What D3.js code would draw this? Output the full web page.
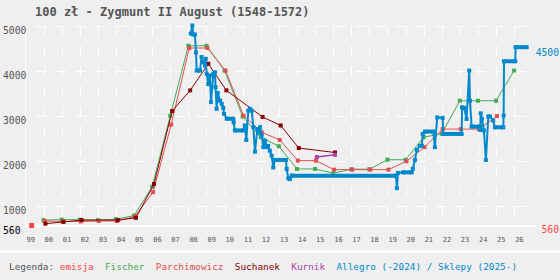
<!DOCTYPE html>
<html>
<head>
<meta charset="utf-8">
<script src="https://d3js.org/d3.v7.min.js"></script>
<style>
    body { margin: 0; background: #efefef; }
    #chart-area { width: 560px; height: 280px; }
    text { font-family: "DejaVu Sans Mono", monospace; }
</style>
</head>
<body>
<div id="chart-area"></div>
<script>

// chart texts
const title = "100 zł - Zygmunt II August (1548-1572)";
const yearTicks = d3.range(1999, 2027);
const gridYears = d3.range(2000, 2027);
const priceTicks = [1000, 2000, 3000, 4000, 5000];
const emissionPrice = 560;
const lastPrice = 4500;

// emission date and price
const emisja = [[1999.34, 560]];

// catalogue prices [year, zl]
const fischer = [
    [2000, 680], [2001, 690], [2002, 690], [2003, 680], [2004, 700], [2005, 780],
    [2006, 1420], [2007, 3000], [2008, 4550], [2009, 4550], [2010, 4000], [2011, 2980],
    [2012, 2520], [2013, 2320], [2014, 1815], [2015, 1815], [2016, 1720], [2017, 1810],
    [2018, 1810], [2019, 2020], [2020, 2020], [2021, 2520], [2022, 2600], [2023, 3330],
    [2024, 3330], [2025, 3330], [2026, 4000]
];

const parchimowicz = [
    [2000.05, 660], [2001.05, 650], [2002.05, 650], [2003.05, 660], [2004.05, 660],
    [2005.05, 760], [2006.05, 1300], [2007.05, 2800], [2008.05, 4500], [2009.05, 4500],
    [2010.05, 4000], [2011.05, 3000], [2012.05, 2630], [2013.05, 2460], [2014.05, 2000],
    [2015.05, 2000], [2016.05, 1800], [2017.05, 1800], [2018.05, 1800], [2019.05, 1800],
    [2020.05, 1985], [2021.05, 2300], [2022.05, 2700], [2023.05, 2700], [2024.05, 2700],
    [2025.05, 2990]
];

const suchanek = [
    [2000.1, 600], [2001.1, 640], [2002.1, 680], [2004.1, 680], [2005.1, 730],
    [2006.1, 1480], [2007.1, 3100], [2008.1, 3560], [2009.1, 4150], [2010.1, 3560],
    [2012.1, 2970], [2013.1, 2780], [2014.1, 2280], [2016.1, 2180]
];

const kurnik = [[2015.1, 2080], [2016.1, 2130]];

// auction / shop prices [date, zl]
const allegro = [
    [2008.13, 4820], [2008.22, 5000], [2008.27, 4800], [2008.36, 4800], [2008.42, 4400],
    [2008.46, 4000], [2008.64, 4000], [2008.73, 4300], [2008.82, 4185], [2008.92, 4110],
    [2008.96, 4260], [2009.01, 3930], [2009.10, 3700], [2009.19, 3890], [2009.25, 3300],
    [2009.38, 3930], [2009.47, 3960], [2009.50, 3630], [2009.56, 3150], [2009.62, 3500],
    [2009.75, 3330], [2009.84, 3260], [2009.93, 3170], [2009.97, 3040], [2010.12, 2930],
    [2010.48, 2930], [2010.50, 2850], [2010.57, 2670], [2011.03, 2670], [2011.12, 2780],
    [2011.20, 2460], [2011.31, 3110], [2011.40, 3150], [2011.50, 3110], [2011.59, 2740],
    [2011.68, 2200], [2011.81, 2700], [2011.86, 2630], [2011.96, 2740], [2012.05, 2560],
    [2012.14, 2300], [2012.23, 2440], [2012.33, 2300], [2012.41, 2330], [2012.50, 2220],
    [2012.60, 2110], [2012.69, 1850], [2012.78, 2015], [2013.39, 2015], [2013.43, 1815],
    [2013.52, 1610], [2013.61, 1590], [2013.71, 1667], [2019.47, 1667], [2019.52, 1390],
    [2019.58, 1727], [2019.86, 1740], [2020.34, 1740], [2020.40, 1815], [2020.52, 2015],
    [2020.62, 2240], [2020.80, 2330], [2020.90, 2330], [2020.95, 2590], [2021.07, 2645],
    [2021.53, 2645], [2021.62, 2300], [2021.75, 2960], [2022.05, 2950], [2022.08, 2593],
    [2023.10, 2593], [2023.12, 3185], [2023.24, 3170], [2023.37, 2926], [2023.52, 4000],
    [2023.56, 3330], [2023.65, 2756], [2024.11, 2756], [2024.13, 2680], [2024.15, 3050],
    [2024.22, 2930], [2024.33, 2670], [2024.44, 2015], [2024.57, 2980], [2024.66, 2980],
    [2024.84, 2890], [2024.94, 2740], [2025.40, 2740], [2025.42, 3000], [2025.44, 4207],
    [2026.06, 4207], [2026.08, 4519], [2026.69, 4519]
];

const legendItems = [
    ["Legenda: ", "#555555"],
    ["emisja  ", "#ff4444"],
    ["Fischer  ", "#44aa55"],
    ["Parchimowicz  ", "#e05050"],
    ["Suchanek  ", "#880000"],
    ["Kurnik  ", "#aa44aa"],
    ["Allegro (-2024) / Sklepy (2025-)", "#0088cc"]
];


class PriceChart {

    constructor(parentElement) {
        this.parentElement = parentElement;
        this.initVis();
    }

    initVis() {
        let vis = this;
        vis.margin = {top: 25.5, right: 24.5, bottom: 54.5, left: 25.5};
        vis.width = 560 - vis.margin.left - vis.margin.right;
        vis.height = 280 - vis.margin.top - vis.margin.bottom;

        vis.root = d3.select("#" + vis.parentElement).append("svg")
            .attr("width", 560)
            .attr("height", 280);

        vis.root.append("rect")
            .attr("width", 560).attr("height", 280)
            .attr("fill", "#efefef");

        // separator above the legend
        vis.root.append("rect")
            .attr("x", 0).attr("y", 250)
            .attr("width", 560).attr("height", 3)
            .attr("fill", "#fafafa");

        vis.svg = vis.root.append("g")
            .attr("transform", "translate(" + vis.margin.left + "," + vis.margin.top + ")");

        vis.x = d3.scaleLinear()
            .domain([1999, 2027.18])
            .range([0, vis.width]);

        vis.y = d3.scaleLinear()
            .domain([560, 5000])
            .range([vis.height, 0]);

        vis.line = d3.line()
            .x(d => vis.x(d[0]))
            .y(d => vis.y(d[1]));

        // title
        vis.root.append("text")
            .attr("x", 35).attr("y", 16)
            .attr("font-size", 12)
            .attr("font-weight", "bold")
            .attr("fill", "#555555")
            .text(title);

        vis.drawAxes();
        vis.drawLegend();
        vis.updateVis();
    }

    drawAxes() {
        let vis = this;

        // dashed grid
        let xGrid = d3.axisBottom(vis.x)
            .tickValues(gridYears)
            .tickSize(-vis.height)
            .tickFormat("");
        let gx = vis.svg.append("g")
            .attr("class", "x-grid")
            .attr("transform", "translate(0," + vis.height + ")")
            .call(xGrid);
        gx.select(".domain").remove();
        gx.selectAll("line")
            .attr("stroke", "#ffffff")
            .attr("stroke-dasharray", "11,9")
            .attr("stroke-dashoffset", 11)
            .attr("shape-rendering", "crispEdges");

        let yGrid = d3.axisLeft(vis.y)
            .tickValues(priceTicks)
            .tickSize(-vis.width)
            .tickFormat("");
        let gy = vis.svg.append("g")
            .attr("class", "y-grid")
            .call(yGrid);
        gy.select(".domain").remove();
        gy.selectAll("line")
            .attr("stroke", "#ffffff")
            .attr("stroke-dasharray", "11,9")
            .attr("stroke-dashoffset", 11)
            .attr("shape-rendering", "crispEdges");

        // solid axis lines
        vis.svg.append("line")
            .attr("x1", 0).attr("x2", 0)
            .attr("y1", 0).attr("y2", vis.height)
            .attr("stroke", "#ffffff")
            .attr("shape-rendering", "crispEdges");
        vis.svg.append("line")
            .attr("x1", 0).attr("x2", vis.width)
            .attr("y1", vis.height).attr("y2", vis.height)
            .attr("stroke", "#ffffff")
            .attr("stroke-width", 2)
            .attr("shape-rendering", "crispEdges");

        // year labels
        let xAxis = d3.axisBottom(vis.x)
            .tickValues(yearTicks)
            .tickSize(0)
            .tickFormat(d => d3.format("02")(d % 100));
        let ax = vis.svg.append("g")
            .attr("class", "x-axis")
            .attr("transform", "translate(0," + vis.height + ")")
            .call(xAxis);
        ax.select(".domain").remove();
        ax.selectAll("text")
            .attr("font-family", "DejaVu Sans Mono")
            .attr("font-size", 7)
            .attr("fill", "#555555")
            .attr("text-anchor", "start")
            .attr("dy", null)
            .attr("x", 0.5)
            .attr("y", 16);

        // price labels, left aligned
        let yAxis = d3.axisLeft(vis.y)
            .tickValues([emissionPrice].concat(priceTicks))
            .tickSize(0)
            .tickFormat(d => d);
        let ay = vis.svg.append("g")
            .attr("class", "y-axis")
            .call(yAxis);
        ay.select(".domain").remove();
        ay.selectAll("text")
            .attr("font-family", "DejaVu Sans Mono")
            .attr("font-size", 9.7)
            .attr("fill", d => d === emissionPrice ? "#000000" : "#555555")
            .attr("text-anchor", "start")
            .attr("x", 3 - vis.margin.left)
            .attr("dy", null)
            .attr("y", 7.5);

        // right side labels
        vis.svg.append("text")
            .attr("x", vis.width + 23.5)
            .attr("y", vis.y(lastPrice) + 7.5)
            .attr("text-anchor", "end")
            .attr("font-size", 9.7)
            .attr("fill", "#0088cc")
            .text(lastPrice);
        vis.svg.append("text")
            .attr("x", vis.width + 23.5)
            .attr("y", vis.y(emissionPrice) + 7.5)
            .attr("text-anchor", "end")
            .attr("font-size", 9.7)
            .attr("fill", "#ff4444")
            .text(emissionPrice);
    }

    drawLegend() {
        let vis = this;
        let legend = vis.root.append("text")
            .attr("x", 9).attr("y", 270)
            .attr("font-size", 9.4)
            .style("white-space", "pre");
        legend.selectAll("tspan")
            .data(legendItems)
            .enter()
            .append("tspan")
            .attr("fill", d => d[1])
            .text(d => d[0]);
    }

    drawSeries(data, color, width, size) {
        let vis = this;
        let g = vis.svg.append("g");

        g.append("path")
            .datum(data)
            .attr("fill", "none")
            .attr("stroke", color)
            .attr("stroke-width", width)
            .attr("d", vis.line);

        g.selectAll("rect")
            .data(data)
            .enter()
            .append("rect")
            .attr("x", d => vis.x(d[0]) - size / 2)
            .attr("y", d => vis.y(d[1]) - size / 2)
            .attr("width", size)
            .attr("height", size)
            .attr("fill", color);
        return g;
    }

    updateVis() {
        let vis = this;

        vis.drawSeries(fischer, "#44aa55", 1, 4);
        vis.drawSeries(parchimowicz, "#e05050", 1, 4);
        vis.drawSeries(suchanek, "#880000", 1, 4);
        vis.drawSeries(kurnik, "#aa44aa", 1.5, 4);

        let g = vis.drawSeries(allegro, "#0088cc", 2, 4);

        // long flat runs look heavier (many offers at the same price)
        let flats = d3.pairs(allegro).filter(p => p[0][1] === p[1][1] && p[1][0] - p[0][0] >= 0.15);
        g.selectAll(".flat")
            .data(flats)
            .enter()
            .append("line")
            .attr("class", "flat")
            .attr("x1", d => vis.x(d[0][0]))
            .attr("x2", d => vis.x(d[1][0]))
            .attr("y1", d => vis.y(d[0][1]))
            .attr("y2", d => vis.y(d[1][1]))
            .attr("stroke", "#0088cc")
            .attr("stroke-width", 4);

        // emission
        vis.svg.selectAll(".emisja")
            .data(emisja)
            .enter()
            .append("rect")
            .attr("class", "emisja")
            .attr("x", d => vis.x(d[0]) - 2.5)
            .attr("y", d => vis.y(d[1]) - 2.5)
            .attr("width", 5)
            .attr("height", 5)
            .attr("fill", "#ff4444");
    }
}

new PriceChart("chart-area");

</script>
</body>
</html>
